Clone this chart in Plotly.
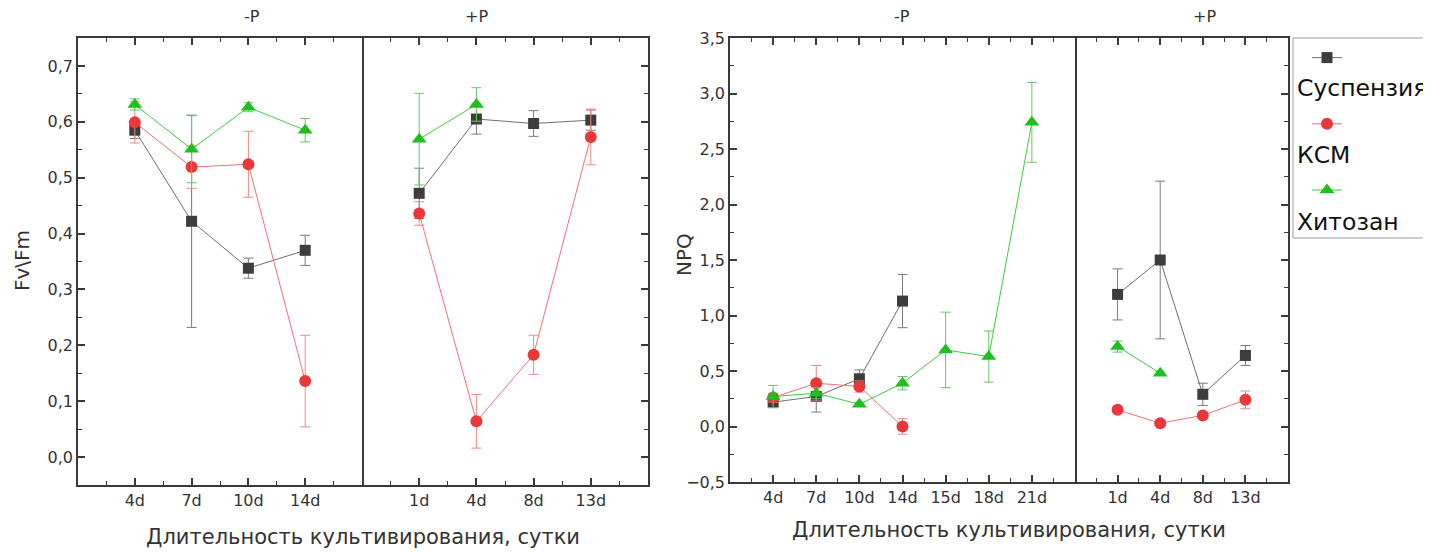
import plotly.graph_objects as go

# ---------------- data ----------------
# Left chart: Fv/Fm
fv_minus_days = ['4d', '7d', '10d', '14d']
fv_plus_days = ['1d', '4d', '8d', '13d']

fv_minus_susp = [0.585, 0.422, 0.338, 0.370]
fv_minus_susp_err = [0.015, 0.190, 0.018, 0.027]
fv_minus_ksm = [0.599, 0.519, 0.524, 0.136]
fv_minus_ksm_err = [0.037, 0.038, 0.059, 0.082]
fv_minus_chit = [0.631, 0.551, 0.626, 0.585]
fv_minus_chit_err = [0.010, 0.060, 0.008, 0.021]

fv_plus_susp = [0.472, 0.605, 0.597, 0.603]
fv_plus_susp_err = [0.045, 0.027, 0.023, 0.018]
fv_plus_ksm = [0.436, 0.064, 0.183, 0.573]
fv_plus_ksm_err = [0.021, 0.048, 0.035, 0.050]
fv_plus_chit = [0.569, 0.631]
fv_plus_chit_err = [0.082, 0.030]

# Right chart: NPQ
npq_minus_days = ['4d', '7d', '10d', '14d', '15d', '18d', '21d']
npq_plus_days = ['1d', '4d', '8d', '13d']

npq_minus_susp = [0.22, 0.27, 0.43, 1.13]
npq_minus_susp_err = [0.05, 0.14, 0.08, 0.24]
npq_minus_ksm = [0.26, 0.39, 0.36, 0.00]
npq_minus_ksm_err = [0.04, 0.16, 0.05, 0.07]
npq_minus_chit = [0.27, 0.30, 0.20, 0.39, 0.69, 0.63, 2.74]
npq_minus_chit_err = [0.10, 0.05, 0.02, 0.06, 0.34, 0.23, 0.36]

npq_plus_susp = [1.19, 1.50, 0.29, 0.64]
npq_plus_susp_err = [0.23, 0.71, 0.10, 0.09]
npq_plus_ksm = [0.15, 0.03, 0.10, 0.24]
npq_plus_ksm_err = [0.02, 0.02, 0.02, 0.08]
npq_plus_chit = [0.72, 0.48]
npq_plus_chit_err = [0.05, 0.01]

series_names = ['Суспензия', 'КСМ', 'Хитозан']

# ---------------- styles ----------------
W, H = 1431, 552
OFF = 8  # the page body offsets the figure by 8 px
FONT = 'DejaVu Sans, Liberation Sans, Arial, sans-serif'
AX = '#3a3a3a'

styles = {
    'Суспензия': dict(mc='#3d3d3d', lc='#707070', ec='#7a7a7a', sym='square', size=11),
    'КСМ': dict(mc='#e8383a', lc='#f07373', ec='#f08888', sym='circle', size=12),
    'Хитозан': dict(mc='#1fbf1f', lc='#45c845', ec='#66c866', sym='triangle-up', size=13),
}


def fx(p):
    return (p - OFF) / W


def fy(p):
    return 1 - (p - OFF) / H


fig = go.Figure()


def add(name, cats, vals, errs, xa, ya, legend=False):
    s = styles[name]
    xs = list(range(len(vals)))
    fig.add_trace(go.Scatter(
        x=xs, y=vals, name=' ', legendgroup=name, showlegend=legend,
        mode='lines+markers',
        line=dict(color=s['lc'], width=1),
        marker=dict(symbol=s['sym'], size=s['size'], color=s['mc'], line=dict(width=0)),
        error_y=dict(type='data', array=errs, visible=True, color=s['ec'], thickness=1, width=5),
        xaxis=xa, yaxis=ya, cliponaxis=False,
        hovertext=[name + ', ' + cats[i] for i in xs], hoverinfo='text+y',
    ))


# left chart
add('Суспензия', fv_minus_days, fv_minus_susp, fv_minus_susp_err, 'x', 'y')
add('КСМ', fv_minus_days, fv_minus_ksm, fv_minus_ksm_err, 'x', 'y')
add('Хитозан', fv_minus_days, fv_minus_chit, fv_minus_chit_err, 'x', 'y')
add('Суспензия', fv_plus_days, fv_plus_susp, fv_plus_susp_err, 'x2', 'y2')
add('КСМ', fv_plus_days, fv_plus_ksm, fv_plus_ksm_err, 'x2', 'y2')
add('Хитозан', fv_plus_days, fv_plus_chit, fv_plus_chit_err, 'x2', 'y2')
# right chart
add('Суспензия', npq_minus_days, npq_minus_susp, npq_minus_susp_err, 'x3', 'y3', legend=True)
add('КСМ', npq_minus_days, npq_minus_ksm, npq_minus_ksm_err, 'x3', 'y3', legend=True)
add('Хитозан', npq_minus_days, npq_minus_chit, npq_minus_chit_err, 'x3', 'y3', legend=True)
add('Суспензия', npq_plus_days, npq_plus_susp, npq_plus_susp_err, 'x4', 'y4')
add('КСМ', npq_plus_days, npq_plus_ksm, npq_plus_ksm_err, 'x4', 'y4')
add('Хитозан', npq_plus_days, npq_plus_chit, npq_plus_chit_err, 'x4', 'y4')

tickfont = dict(family=FONT, size=16, color='#333333')


def xaxis(dom, cats, anchor):
    n = len(cats)
    return dict(domain=[fx(dom[0]), fx(dom[1])], anchor=anchor,
                range=[-1, n], tickmode='array', tickvals=list(range(n)), ticktext=cats,
                showline=True, linecolor=AX, linewidth=1.5, mirror='ticks',
                ticks='inside', ticklen=7, tickwidth=1.5, tickcolor=AX,
                minor=dict(ticks='inside', ticklen=4, tickwidth=1, tickcolor=AX,
                           tickmode='linear', tick0=-0.5, dtick=1),
                showgrid=False, zeroline=False, tickfont=tickfont, fixedrange=True)


def yaxis(top, bot, rng, dt, anchor, side, labels, mirror, match=None):
    d = dict(domain=[fy(bot), fy(top)], anchor=anchor, side=side, range=rng,
             tick0=0, dtick=dt, tickformat='.1f',
             showline=True, linecolor=AX, linewidth=1.5, mirror=mirror,
             ticks='inside', ticklen=7, tickwidth=1.5, tickcolor=AX,
             minor=dict(ticks='inside', ticklen=4, tickwidth=1, tickcolor=AX, dtick=dt / 2, tick0=0),
             showticklabels=labels, showgrid=False, zeroline=False,
             tickfont=tickfont, fixedrange=True)
    if match:
        d['matches'] = match
    return d


fig.update_layout(
    width=W, height=H,
    margin=dict(l=0, r=0, t=0, b=0, autoexpand=False),
    paper_bgcolor='white', plot_bgcolor='white',
    separators=', ',
    font=dict(family=FONT, color='#222222'),
    xaxis=xaxis((78, 362), fv_minus_days, 'y'),
    xaxis2=xaxis((362, 648), fv_plus_days, 'y2'),
    xaxis3=xaxis((730, 1075), npq_minus_days, 'y3'),
    xaxis4=xaxis((1075, 1288), npq_plus_days, 'y4'),
    yaxis=yaxis(38, 485, [-0.05, 0.75], 0.1, 'x', 'left', True, True),
    yaxis2=yaxis(38, 485, [-0.05, 0.75], 0.1, 'x2', 'right', False, False, 'y'),
    yaxis3=yaxis(38, 482, [-0.5, 3.5], 0.5, 'x3', 'left', True, True),
    yaxis4=yaxis(38, 482, [-0.5, 3.5], 0.5, 'x4', 'right', False, False, 'y3'),
    showlegend=True,
    legend=dict(x=fx(1307), y=fy(42), xanchor='left', yanchor='top',
                borderwidth=0, bgcolor='rgba(0,0,0,0)',
                font=dict(family=FONT, size=14, color='#111111'),
                valign='middle', tracegroupgap=45),
)

# legend frame (extends past the right edge as in the original)
fig.add_shape(type='rect', xref='paper', yref='paper', x0=fx(1293), x1=fx(1450),
              y0=fy(238), y1=fy(38), line=dict(color='#9a9a9a', width=1), fillcolor='rgba(0,0,0,0)')

# legend labels written under each symbol
for name, ypix in zip(series_names, [88, 155, 222]):
    fig.add_annotation(xref='paper', yref='paper', showarrow=False, x=fx(1295), y=fy(ypix),
                       xanchor='left', yanchor='middle', text=name,
                       font=dict(family=FONT, size=23.5, color='#111111'))

# panel titles
for text, xp in [('-P', 252), ('+P', 477), ('-P', 902), ('+P', 1204)]:
    fig.add_annotation(xref='paper', yref='paper', showarrow=False, x=fx(xp), y=fy(17),
                       xanchor='center', yanchor='middle', text=text,
                       font=dict(family=FONT, size=16, color='#333333'))

for xp, yp in [(363, 537), (1009, 530)]:
    fig.add_annotation(xref='paper', yref='paper', showarrow=False, x=fx(xp), y=fy(yp),
                       xanchor='center', yanchor='middle',
                       text='Длительность культивирования, сутки',
                       font=dict(family=FONT, size=21, color='#333333'))

fig.add_annotation(xref='paper', yref='paper', showarrow=False, x=fx(22), y=fy(261),
                   xanchor='center', yanchor='middle', text='Fv\\Fm', textangle=-90,
                   font=dict(family=FONT, size=20, color='#333333'))
fig.add_annotation(xref='paper', yref='paper', showarrow=False, x=fx(684), y=fy(255),
                   xanchor='center', yanchor='middle', text='NPQ', textangle=-90,
                   font=dict(family=FONT, size=20, color='#333333'))

fig.write_html('out.html')
